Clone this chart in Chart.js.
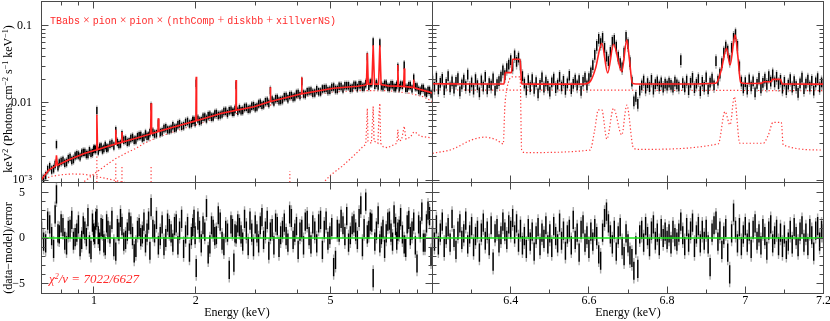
<!DOCTYPE html>
<html>
<head>
<meta charset="utf-8">
<script src="https://cdn.jsdelivr.net/npm/chart.js@4.4.1/dist/chart.umd.min.js"></script>
<style>
  body { margin: 0; background: #fff; }
  #wrap { position: relative; width: 830px; height: 321px; overflow: hidden; }
  canvas { position: absolute; left: 0; top: 0; }
  .yt { position: absolute; transform: translate(-50%, -50%) rotate(-90deg); font: 12px 'Liberation Serif', serif;
        line-height: 14px; white-space: nowrap; color: #000; }
  .yt sup, #chi sup { font-size: 8px; vertical-align: 4px; line-height: 0; }
  #model { position: absolute; left: 50px; top: 13px; color: #ff2a2a; font: 10px 'Liberation Mono', monospace;
           line-height: 12px; white-space: nowrap; }
  #model .op { font: 12px 'Liberation Serif', serif; padding: 0 3px; }
  #chi { position: absolute; left: 49px; top: 271px; color: #ff2a2a; font: italic 13px 'Liberation Serif', serif;
         line-height: 15px; white-space: nowrap; }
</style>
</head>
<body>
<div id="wrap">
  <canvas id="tl" width="830" height="321"></canvas>
  <canvas id="tr" width="830" height="321"></canvas>
  <canvas id="bl" width="830" height="321"></canvas>
  <canvas id="br" width="830" height="321"></canvas>
  <div class="yt" style="left:8px;top:99px">keV<sup>2</sup> (Photons cm<sup>−2</sup> s<sup>−1</sup> keV<sup>−1</sup>)</div>
  <div class="yt" style="left:8px;top:248px">(data−model)/error</div>
  <div id="model">TBabs<span class="op">×</span>pion<span class="op">×</span>pion<span class="op">×</span>(nthComp<span class="op">+</span>diskbb<span class="op">+</span>xillverNS)</div>
  <div id="chi">χ<sup>2</sup>/ν = 7022/6627</div>
</div>
<script>
// flux values are in units of 1e-3 (keV^2 photons cm^-2 s^-1 keV^-1)
const MILLI = 1e-3;

// ---- broad band (left), two data groups ----
const leftE = [
  0.700,0.720,0.740,0.760,0.775,0.790,0.810,0.830,0.850,0.870,
  0.890,0.910,0.930,0.950,0.970,0.990,1.005,1.020,1.040,1.060,
  1.080,1.100,1.130,1.160,1.185,1.210,1.240,1.270,1.300,1.330,
  1.360,1.390,1.420,1.450,1.475,1.510,1.550,1.590,1.630,1.670,
  1.710,1.750,1.790,1.840,1.890,1.940,1.975,2.005,2.050,2.100,
  2.150,2.200,2.250,2.300,2.360,2.420,2.480,2.540,2.590,2.630,
  2.690,2.750,2.820,2.890,2.960,3.030,3.100,3.170,3.250,3.320,
  3.400,3.480,3.560,3.650,3.740,3.830,3.920,4.010,4.110,4.210,
  4.320,4.430,4.550,4.670,4.790,4.910,5.040,5.170,5.300,5.440,
  5.580,5.720,5.860,6.000,6.140,6.280,6.420,6.550,6.680,6.830,
  6.990,7.140,7.300,7.460,7.620,7.780,7.900,8.050,8.250,8.420,
  8.600,8.800,9.000,9.200,9.400,9.600,9.800,10.00
];
const leftFlux = [
  1.08,1.15,1.50,1.41,2.90,1.68,1.80,1.70,1.98,1.86,
  2.14,2.01,2.30,2.16,2.42,2.28,2.55,8.00,2.68,2.47,
  2.82,2.63,3.01,4.40,2.90,3.90,3.36,3.15,3.58,3.33,
  3.78,3.52,3.98,3.74,9.00,3.96,5.50,4.25,4.80,4.50,
  5.08,4.78,5.40,5.08,5.78,5.42,5.98,18.0,5.82,6.55,
  6.20,6.98,6.60,7.35,6.98,7.78,7.30,8.12,7.62,17.0,
  8.45,8.02,8.85,8.40,9.25,8.90,9.95,9.50,10.6,14.5,
  10.3,11.5,10.8,12.1,11.4,12.6,12.0,13.3,19.0,12.9,
  14.3,13.4,14.9,13.9,15.4,14.5,16.0,15.0,16.5,15.2,
  16.8,15.5,17.1,15.8,17.3,16.2,40.0,18.2,62.0,18.0,
  60.0,16.3,17.6,15.9,17.3,15.8,29.0,17.2,31.0,15.5,
  16.9,21.0,16.2,14.3,15.5,13.4,14.6,12.8
];
const leftRes = [
  0.8,-0.6,1.5,-1.2,4.8,0.4,1.2,-0.8,1.0,-0.3,
  0.6,-1.0,1.4,0.1,-0.7,1.7,0.3,2.2,-0.4,1.1,
  -0.9,0.9,2.0,-1.5,0.7,1.3,-0.2,1.8,0.2,-1.1,
  1.2,0.4,-0.6,1.9,3.4,0.5,-0.8,1.5,0.0,1.1,
  -0.5,1.6,0.8,-1.2,1.3,0.2,2.1,-3.3,0.9,1.4,
  3.3,-0.7,1.0,0.3,1.8,-0.9,0.6,1.5,-2.7,0.4,
  1.2,-0.4,0.8,1.9,-1.0,0.5,1.4,-0.2,2.0,0.7,
  -0.8,1.3,0.3,1.7,-0.5,2.2,0.6,-1.3,1.0,1.8,
  0.2,1.5,-0.6,2.0,0.9,-0.3,1.2,-2.4,0.6,1.4,
  2.4,0.3,1.6,-0.2,3.6,1.1,0.4,1.8,-4.4,0.8,
  -0.6,1.0,0.5,1.9,-0.4,1.3,0.7,2.3,-0.7,1.5,
  0.2,1.8,-2.8,0.9,-0.5,1.6,2.4,0.3
];
const leftE2 = [
  0.710,0.730,0.750,0.768,0.783,0.800,0.820,0.840,0.860,0.880,
  0.900,0.920,0.940,0.960,0.980,0.998,1.012,1.030,1.050,1.070,
  1.090,1.115,1.145,1.173,1.198,1.225,1.255,1.285,1.315,1.345,
  1.375,1.405,1.435,1.463,1.493,1.530,1.570,1.610,1.650,1.690,
  1.730,1.770,1.815,1.865,1.915,1.958,1.990,2.028,2.075,2.125,
  2.175,2.225,2.275,2.330,2.390,2.450,2.510,2.565,2.610,2.660,
  2.720,2.785,2.855,2.925,2.995,3.065,3.135,3.210,3.285,3.360,
  3.440,3.520,3.605,3.695,3.785,3.875,3.965,4.060,4.160,4.265,
  4.375,4.490,4.610,4.730,4.850,4.975,5.105,5.235,5.370,5.510,
  5.650,5.790,5.930,6.070,6.210,6.350,6.485,6.615,6.755,6.910,
  7.065,7.220,7.380,7.540,7.700,7.840,7.975,8.150,8.335,8.510,
  8.700,8.900,9.100,9.300,9.500,9.700,9.900
];
const leftFlux2 = [
  1.05,1.38,1.36,1.60,1.50,1.75,1.66,1.90,1.80,2.07,
  2.12,2.25,2.30,2.16,2.24,2.52,2.50,2.40,2.70,2.58,
  2.60,2.92,2.78,3.10,2.95,3.30,3.10,3.48,3.30,3.68,
  3.80,3.60,3.70,4.12,4.20,4.00,4.15,4.68,4.50,4.62,
  4.72,5.25,5.00,5.62,5.36,5.95,5.60,6.20,5.92,6.62,
  6.85,6.55,7.25,6.90,7.20,7.85,7.95,7.60,8.30,7.85,
  7.95,8.75,8.30,9.12,8.70,9.75,9.35,10.4,9.90,11.0,
  11.4,10.7,11.0,12.2,12.5,11.8,13.1,12.5,13.1,14.0,
  14.4,13.5,14.0,15.2,15.5,14.7,16.2,15.0,16.4,16.8,
  16.8,15.7,17.0,17.3,16.0,17.8,16.5,18.3,17.0,16.6,
  16.6,17.6,16.0,17.3,15.9,17.1,15.8,17.0,15.6,16.8,
  15.3,16.3,14.6,15.5,13.9,14.6,13.1
];
const leftRes2 = [
  -0.4,1.9,0.2,2.6,0.5,1.6,-0.3,0.9,2.0,0.1,
  1.5,-0.2,0.8,2.3,-1.3,0.6,1.9,0.3,1.2,-0.6,
  1.6,0.4,-1.0,1.1,2.2,-0.4,0.7,1.4,-1.7,0.9,
  0.1,1.8,0.6,-1.4,1.0,2.0,0.2,-0.9,1.7,0.5,
  1.3,-0.8,2.1,0.4,-1.6,1.2,0.3,1.9,-0.6,0.7,
  -1.8,1.4,0.2,2.5,-0.3,0.9,-3.5,1.1,0.5,1.6,
  0.4,2.1,-0.9,0.6,1.5,-0.6,2.3,0.8,-1.4,1.1,
  1.7,-1.1,0.9,0.2,2.6,-0.2,1.3,0.7,-0.8,2.0,
  -0.7,0.8,1.6,-1.3,1.9,0.3,-3.2,1.0,2.1,0.2,
  -0.5,1.4,0.7,2.2,-1.0,4.0,0.9,1.7,-0.4,2.5,
  0.3,-1.2,1.8,0.6,2.6,-0.3,1.0,0.4,-1.1,2.0,
  0.8,-0.8,1.5,2.9,-0.5,3.0,-2.0
];
// total model [E, flux]
const leftModel = [
  [0.70,1.02],[0.735,1.35],[0.77,1.53],[0.775,2.1],[0.78,1.56],[0.84,1.82],[0.94,2.22],
  [1.015,2.45],[1.02,7.0],[1.025,2.47],[1.10,2.74],[1.155,2.92],[1.16,4.5],[1.165,2.96],
  [1.205,3.08],[1.21,4.2],[1.215,3.11],[1.33,3.48],[1.47,3.96],[1.475,9.9],[1.48,4.0],
  [1.545,4.24],[1.55,6.3],[1.555,4.28],[1.70,4.8],[2.0,5.85],[2.005,21.8],[2.01,5.88],
  [2.37,7.3],[2.625,8.0],[2.63,19.8],[2.635,8.04],[2.97,8.9],[3.315,10.4],[3.32,15.9],
  [3.325,10.4],[3.56,11.2],[4.105,13.1],[4.11,21.5],[4.115,13.1],[5.1,15.5],[6.0,16.4],
  [6.3,16.9],[6.38,17.3],[6.42,44],[6.46,17.5],[6.62,17.5],[6.68,56],[6.74,17.5],
  [6.93,17.5],[6.99,56],[7.05,17.3],[7.4,16.6],[7.87,16.5],[7.9,31],[7.93,16.5],
  [8.22,16.3],[8.25,28],[8.28,16.3],[8.6,16.0],[8.77,15.8],[8.8,20],[8.83,15.7],
  [9.7,14.0],[10.0,13.3]
];
const leftComp = [
  [0.90,0.85],[0.95,1.0],[1.0,1.2],[1.05,1.4],[1.10,1.62],[1.16,1.9],[1.24,2.22],[1.33,2.58],
  [1.42,3.05],[1.52,3.48],[1.67,4.05],[1.85,4.7],[2.0,5.2],[2.37,6.6],[2.97,8.2],[3.56,10.2],
  [4.1,11.9],[5.1,13.9],[6.0,14.4],[7.4,14.4],[8.6,13.3],[9.4,12.0],[10.0,10.4]
];
const leftDisk = [
  [0.70,1.0],[0.75,1.12],[0.80,1.17],[0.86,1.2],[0.93,1.19],[0.98,1.15],[1.05,1.08],
  [1.13,1.01],[1.20,0.95],[1.30,0.89],[1.40,0.82]
];
const leftXill = [
  [4.4,0.7],[4.67,0.85],[5.0,1.16],[5.4,1.5],[5.74,1.91],[6.0,2.3],[6.2,2.66],[6.35,2.9],
  [6.39,5.0],[6.42,8.5],[6.45,3.2],[6.6,3.0],[6.65,6.0],[6.68,9.0],[6.72,3.2],[6.9,3.0],
  [6.95,7.0],[6.99,9.9],[7.03,3.0],[7.15,2.7],[7.37,2.62],[7.6,2.8],[7.85,3.0],[7.9,4.5],
  [7.95,3.2],[8.1,3.3],[8.25,5.0],[8.35,3.4],[8.6,3.6],[8.8,4.2],[8.95,4.1],[9.2,3.7],
  [9.6,3.6],[10.0,3.5]
];
const lineE = [1.02, 1.16, 1.21, 1.475, 3.79];
const lineF = [2.1, 1.7, 1.5, 1.5, 1.3];

// ---- Fe K band (right) ----
const rightE = [
  6.200,6.205,6.210,6.215,6.220,6.225,6.230,6.235,6.240,6.245,6.250,6.255,6.260,6.265,6.270,6.275,6.280,6.285,6.290,6.295,
  6.300,6.305,6.310,6.315,6.320,6.325,6.330,6.335,6.340,6.345,6.350,6.355,6.360,6.365,6.370,6.375,6.380,6.385,6.390,6.395,
  6.400,6.405,6.410,6.415,6.420,6.425,6.430,6.435,6.440,6.445,6.450,6.455,6.460,6.465,6.470,6.475,6.480,6.485,6.490,6.495,
  6.500,6.505,6.510,6.515,6.520,6.525,6.530,6.535,6.540,6.545,6.550,6.555,6.560,6.565,6.570,6.575,6.580,6.585,6.590,6.595,
  6.600,6.605,6.610,6.615,6.620,6.625,6.630,6.635,6.640,6.645,6.650,6.655,6.660,6.665,6.670,6.675,6.680,6.685,6.690,6.695,
  6.700,6.705,6.710,6.715,6.720,6.725,6.730,6.735,6.740,6.745,6.750,6.755,6.760,6.765,6.770,6.775,6.780,6.785,6.790,6.795,
  6.800,6.805,6.810,6.815,6.820,6.825,6.830,6.835,6.840,6.845,6.850,6.855,6.860,6.865,6.870,6.875,6.880,6.885,6.890,6.895,
  6.900,6.905,6.910,6.915,6.920,6.925,6.930,6.935,6.940,6.945,6.950,6.955,6.960,6.965,6.970,6.975,6.980,6.985,6.990,6.995,
  7.000,7.005,7.010,7.015,7.020,7.025,7.030,7.035,7.040,7.045,7.050,7.055,7.060,7.065,7.070,7.075,7.080,7.085,7.090,7.095,
  7.100,7.105,7.110,7.115,7.120,7.125,7.130,7.135,7.140,7.145,7.150,7.155,7.160,7.165,7.170,7.175,7.180,7.185,7.190,7.195,
  7.200
];
const rightFlux = [
  19.5,16.2,21.4,15.1,18.3,20.6,14.7,17.8,22.3,16.0,19.1,15.4,18.8,21.0,14.2,17.5,20.1,16.6,23.4,15.7,
  18.6,14.9,20.4,17.1,13.8,19.7,16.3,21.8,15.0,18.2,16.8,20.9,14.5,17.6,19.3,22.0,26.5,23.0,28.4,31.5,
  36.0,29.8,41.5,34.2,38.9,30.5,22.4,17.9,14.6,19.8,16.1,20.5,15.3,18.7,13.4,17.2,21.6,15.9,19.0,16.7,
  14.1,18.5,20.7,15.6,17.3,21.9,16.4,19.4,14.8,18.0,22.6,15.2,17.7,20.2,16.9,19.9,14.4,18.9,21.3,17.0,
  21.0,25.0,31.0,42.0,55.0,68.0,60.0,70.0,52.0,40.0,35.0,46.0,62.0,66.0,54.0,40.0,33.0,29.0,45.0,72.0,
  58.0,34.0,19.0,10.5,12.0,9.8,14.5,17.0,19.6,15.4,18.2,16.1,20.0,14.9,17.6,19.1,16.5,18.6,15.8,17.9,
  16.8,18.4,17.2,15.9,19.0,17.5,16.4,36.0,18.1,16.0,19.6,14.7,18.3,21.2,15.6,17.8,20.4,14.3,18.9,16.2,
  21.5,15.1,18.4,20.8,17.0,35.0,19.5,24.0,33.0,45.0,54.0,48.0,36.0,52.0,70.0,78.0,55.0,30.0,19.0,15.5,
  18.7,14.9,20.3,16.4,19.1,13.8,17.7,21.2,15.5,18.3,20.7,17.2,22.4,19.0,23.5,18.5,21.8,17.6,20.0,15.4,
  18.9,14.7,17.4,20.5,15.9,19.3,16.6,13.6,18.0,21.4,15.2,17.9,20.1,16.3,19.4,14.5,18.5,21.1,16.0,18.6,
  17.4
];
const rightRes = [
  0.9,-0.4,1.5,-0.8,0.6,1.8,-1.1,0.3,1.2,-0.5,2.1,0.0,-1.3,0.8,1.6,-0.2,0.5,1.9,-0.7,0.4,
  1.3,-1.0,0.2,0.9,-1.6,0.6,1.7,-0.3,0.8,-0.9,1.4,-2.6,0.5,1.1,-0.6,0.3,1.8,0.7,-0.2,1.5,
  0.9,2.2,0.4,1.6,-0.5,1.0,-0.8,0.2,-1.2,1.1,-0.4,0.7,-1.5,0.3,1.2,-0.9,0.6,-0.1,1.4,-0.7,
  0.5,-1.1,1.3,0.2,-0.6,1.7,-0.3,0.8,-1.4,0.4,1.0,-0.8,2.0,-0.2,0.6,-1.6,0.9,1.5,-0.5,0.3,
  -1.2,0.7,-0.4,1.1,0.2,-1.8,-2.5,0.6,2.2,2.9,1.6,0.4,-0.7,0.9,-1.5,0.3,1.2,-0.9,-2.0,0.5,
  -0.6,-1.9,-2.2,-3.6,-0.8,-3.4,0.4,0.9,-0.5,1.3,0.2,-1.0,0.8,1.5,-0.3,0.6,-0.9,1.1,0.0,0.7,
  -0.2,0.5,-0.7,0.9,0.1,-0.4,0.6,1.8,0.3,-0.9,1.2,-0.5,0.8,1.7,-1.1,0.4,1.3,-0.6,0.9,-0.3,
  1.0,-0.7,-3.2,0.6,1.4,1.9,-0.4,0.8,-1.3,0.3,1.1,-1.6,-4.0,0.5,2.8,0.9,-0.6,1.2,-0.9,0.4,
  1.3,-0.5,0.7,-1.2,0.9,1.6,-0.3,0.5,-0.8,1.1,0.2,-1.4,0.8,1.5,-0.6,0.3,1.0,-0.9,0.6,-1.1,
  0.4,-1.3,-0.4,0.9,-0.7,1.2,0.2,-1.0,0.7,1.4,-0.5,0.6,-0.9,1.1,0.3,-1.5,0.8,1.3,-0.4,0.9,
  0.5
];
const rightModel = [
  [6.200,17.7],[6.300,17.6],[6.383,17.6],[6.386,24.7],[6.402,24.7],[6.405,36.7],[6.424,36.7],
  [6.428,17.6],[6.500,17.5],[6.590,17.6],[6.605,19.5],[6.617,28],[6.633,59],[6.648,24.5],
  [6.663,57.5],[6.684,25.4],[6.697,65],[6.704,35],[6.711,18],[6.720,17.6],[6.850,17.6],
  [6.925,18],[6.938,26],[6.952,51],[6.961,31],[6.974,76],[6.981,40],[6.988,18.5],[7.000,17.8],
  [7.040,17.9],[7.048,18.8],[7.066,18.8],[7.069,20.2],[7.090,20.2],[7.094,17.6],[7.200,17.5]
];
const rightComp = [[6.2,14.7],[6.7,14.6],[7.2,14.4]];
const rightXill = [
  [6.200,2.22],[6.250,2.5],[6.300,3.31],[6.334,3.6],[6.364,3.31],[6.381,2.95],[6.385,8.9],
  [6.390,15],[6.404,21.8],[6.424,21.8],[6.428,2.45],[6.437,2.27],[6.603,2.45],[6.615,4.5],
  [6.624,8.1],[6.633,8.1],[6.646,3.4],[6.663,8.5],[6.684,3.85],[6.697,9.35],[6.714,2.6],
  [6.727,2.5],[6.931,2.95],[6.948,7.7],[6.961,5.2],[6.972,12.0],[6.986,3.0],[7.046,3.0],
  [7.059,3.85],[7.071,5.6],[7.092,5.6],[7.097,2.85],[7.199,2.45]
];

// ---- axes ----
const leftXLabels = [1, 2, 5];
const leftXMinor = [0.8, 0.9, 3, 4, 6, 7, 8, 9];
const rightXLabels = [6.4, 6.6, 6.8, 7, 7.2];
const rightXMinor = [6.3, 6.5, 6.7, 6.9, 7.1];
const topYLabels = [0.001, 0.01, 0.1];
const topYText = ['10⁻³', '0.01', '0.1'];
const topYMinor = [0.002,0.003,0.004,0.005,0.006,0.007,0.008,0.009,
                   0.02,0.03,0.04,0.05,0.06,0.07,0.08,0.09,0.2];
const resYLabels = [-5, 0, 5];
const resYText = ['−5', '0', '5'];
const resYMinor = [-6, -4, -3, -2, -1, 1, 2, 3, 4, 6];

const RED = '#ff2020';
const DOT = 'rgba(255,50,50,0.95)';
const GREEN = '#18e018';
const FRAME = '#4a4a4a';
const FONT = 'Liberation Serif';
const tickFont = {family: FONT, size: 12};

function toPts(pairs) {
  return pairs.map(p => ({x: p[0], y: p[1] * MILLI}));
}
// vertical error bars: lo -> hi, then a gap
function errBars(E, V, lo, hi) {
  const pts = [];
  for (let i = 0; i < E.length; i++) {
    pts.push({x: E[i], y: lo(V[i])}, {x: E[i], y: hi(V[i])}, {x: E[i], y: null});
  }
  return pts;
}
function spikes(E, F, floor) {
  const pts = [];
  for (let i = 0; i < E.length; i++) {
    pts.push({x: E[i], y: floor}, {x: E[i], y: F[i] * MILLI}, {x: E[i], y: null});
  }
  return pts;
}
function fixSize(w, h) {
  return s => {
    if (w != null) s.width = w;
    if (h != null) s.height = h;
    s.paddingLeft = s.paddingRight = s.paddingTop = s.paddingBottom = 0;
  };
}

// inward tick marks on all four sides + frame
function frameTicks(t) {
  return {
    id: 'frameTicks',
    afterDraw(chart) {
      const {ctx, chartArea: a} = chart;
      const x = chart.scales.x, y = chart.scales.y;
      const snap = v => Math.round(v - 0.5) + 0.5;
      ctx.save();
      ctx.strokeStyle = FRAME;
      ctx.lineWidth = 1;
      ctx.beginPath();
      [[t.xMajor, 7], [t.xMinor, 4]].forEach(([vals, len]) => {
        vals.forEach(v => {
          const px = snap(x.getPixelForValue(v));
          if (px <= a.left + 1 || px >= a.right - 1) return;
          ctx.moveTo(px, a.bottom); ctx.lineTo(px, a.bottom - len);
          ctx.moveTo(px, a.top); ctx.lineTo(px, a.top + len);
        });
      });
      [[t.yMajor, 7], [t.yMinor, 4]].forEach(([vals, len]) => {
        vals.forEach(v => {
          const py = snap(y.getPixelForValue(v));
          if (py <= a.top + 1 || py >= a.bottom - 1) return;
          ctx.moveTo(a.left, py); ctx.lineTo(a.left + len, py);
          ctx.moveTo(a.right, py); ctx.lineTo(a.right - len, py);
        });
      });
      ctx.stroke();
      ctx.strokeRect(a.left, a.top, a.width, a.height);
      ctx.restore();
    }
  };
}

function makeChart(id, padding, scales, datasets, ticks) {
  return new Chart(document.getElementById(id), {
    type: 'line',
    data: {datasets},
    options: {
      responsive: false,
      animation: false,
      events: [],
      layout: {padding, autoPadding: false},
      plugins: {legend: {display: false}, tooltip: {enabled: false}},
      elements: {point: {radius: 0}},
      scales
    },
    plugins: [frameTicks(ticks)]
  });
}

const noGrid = {grid: {display: false, drawTicks: false}, border: {display: false}};
const topY = {type: 'logarithmic', min: 9.3e-4, max: 0.206};
const resY = {type: 'linear', min: -6.1, max: 6.1};
const leftX = {type: 'logarithmic', min: 0.7, max: 10};
const rightX = {type: 'linear', min: 6.2, max: 7.2};

const model = (pairs, extra) => Object.assign({data: toPts(pairs), borderColor: RED, borderWidth: 1.6, order: 0}, extra);
const dotted = (data, extra) => Object.assign({data, borderColor: DOT, borderWidth: 1.2, borderDash: [1.3, 2.2], order: 4}, extra);
const black = (data, w) => ({data, borderColor: '#000', borderWidth: w, order: 2});
const grey = (data, w) => ({data, borderColor: '#aaaaaa', borderWidth: w, order: 3});
const zero = (lo, hi) => ({data: [{x: lo, y: 0}, {x: hi, y: 0}], borderColor: GREEN, borderWidth: 1.5, order: 0});

const fluxLo = f => v => v * MILLI * (1 - f);
const fluxHi = f => v => v * MILLI * (1 + f);
const resLo = f => v => v - f;
const resHi = f => v => v + f;

// top left: broad-band spectrum
makeChart('tl', {left: 0, top: 1.5, right: 397.5, bottom: 138.5}, {
  x: Object.assign({}, leftX, {display: false}),
  y: Object.assign({}, topY, noGrid, {
    ticks: {font: tickFont, color: '#000', padding: 9.5, autoSkip: false,
            callback: v => topYText[topYLabels.indexOf(v)]},
    afterBuildTicks: s => { s.ticks = topYLabels.map(v => ({value: v})); },
    afterFit: fixSize(41.5, null)
  })
}, [
  model(leftModel),
  black(errBars(leftE, leftFlux, fluxLo(0.11), fluxHi(0.11)), 1.4),
  black(errBars(leftE2, leftFlux2, fluxLo(0.11), fluxHi(0.11)), 1.4),
  grey(errBars(leftE, leftFlux, fluxLo(0.15), fluxHi(0.16)), 1.4),
  grey(errBars(leftE2, leftFlux2, fluxLo(0.15), fluxHi(0.16)), 1.4),
  dotted(toPts(leftComp)),
  dotted(toPts(leftDisk)),
  dotted(toPts(leftXill)),
  dotted(spikes(lineE, lineF, 5e-4))
], {xMajor: leftXLabels, xMinor: leftXMinor, yMajor: topYLabels, yMinor: topYMinor});

// top right: Fe K zoom
makeChart('tr', {left: 432.5, top: 1.5, right: 6.5, bottom: 138.5}, {
  x: Object.assign({}, rightX, {display: false}),
  y: Object.assign({}, topY, {display: false})
}, [
  model(rightModel, {cubicInterpolationMode: 'monotone'}),
  black(errBars(rightE, rightFlux, fluxLo(0.14), fluxHi(0.15)), 1.4),
  grey(errBars(rightE, rightFlux, fluxLo(0.21), fluxHi(0.22)), 1.4),
  dotted(toPts(rightComp)),
  dotted(toPts(rightXill), {cubicInterpolationMode: 'monotone'})
], {xMajor: rightXLabels, xMinor: rightXMinor, yMajor: topYLabels, yMinor: topYMinor});

// bottom left: residuals
makeChart('bl', {left: 0, top: 182.5, right: 397.5, bottom: 0}, {
  x: Object.assign({}, leftX, noGrid, {
    ticks: {font: tickFont, color: '#000', padding: 0, autoSkip: false, maxRotation: 0,
            callback: v => String(v)},
    afterBuildTicks: s => { s.ticks = leftXLabels.map(v => ({value: v})); },
    afterFit: fixSize(null, 27.5),
    title: {display: true, text: 'Energy (keV)', font: tickFont, color: '#000', padding: {top: 0, bottom: 1}}
  }),
  y: Object.assign({}, resY, noGrid, {
    ticks: {font: tickFont, color: '#000', padding: 16.5, autoSkip: false,
            callback: v => resYText[resYLabels.indexOf(v)]},
    afterBuildTicks: s => { s.ticks = resYLabels.map(v => ({value: v})); },
    afterFit: fixSize(41.5, null)
  })
}, [
  zero(0.7, 10),
  black(errBars(leftE, leftRes, resLo(1), resHi(1)), 1.4),
  black(errBars(leftE2, leftRes2, resLo(1), resHi(1)), 1.4),
  grey(errBars(leftE, leftRes, resLo(1.4), resHi(1.4)), 1.4),
  grey(errBars(leftE2, leftRes2, resLo(1.4), resHi(1.4)), 1.4)
], {xMajor: leftXLabels, xMinor: leftXMinor, yMajor: resYLabels, yMinor: resYMinor});

// bottom right: residuals
makeChart('br', {left: 432.5, top: 182.5, right: 6.5, bottom: 0}, {
  x: Object.assign({}, rightX, noGrid, {
    ticks: {font: tickFont, color: '#000', padding: 0, autoSkip: false, maxRotation: 0,
            callback: v => String(v)},
    afterBuildTicks: s => { s.ticks = rightXLabels.map(v => ({value: v})); },
    afterFit: fixSize(null, 27.5),
    title: {display: true, text: 'Energy (keV)', font: tickFont, color: '#000', padding: {top: 0, bottom: 1}}
  }),
  y: Object.assign({}, resY, {display: false})
}, [
  zero(6.2, 7.2),
  black(errBars(rightE, rightRes, resLo(1), resHi(1)), 1.4),
  grey(errBars(rightE, rightRes, resLo(1.4), resHi(1.4)), 1.4)
], {xMajor: rightXLabels, xMinor: rightXMinor, yMajor: resYLabels, yMinor: resYMinor});
</script>
</body>
</html>
